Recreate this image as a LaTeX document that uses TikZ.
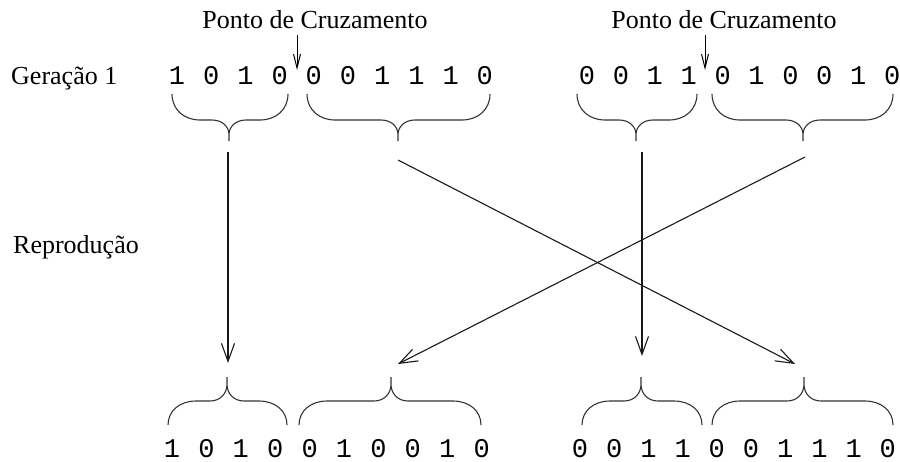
\documentclass[tikz,border=0pt]{standalone}
\usepackage{fontspec}
\setmainfont{Liberation Serif}
\setmonofont{Liberation Mono}
\usetikzlibrary{arrows.meta}
\newcommand{\mybrace}[7]{% #1 name, #2 x1, #3 x2, #4 xc, #5 yend, #6 ymid, #7 ytip
  \draw[brc] (#2,#5) .. controls (#2,{#5+0.6*(#6-#5)}) and ({#2+12},#6) .. ({#2+28},#6) -- ({#4-17},#6)
    .. controls ({#4-7},#6) and (#4,{#6+0.3*(#7-#6)}) .. (#4,{#6+0.7*(#7-#6)}) -- (#4,#7) coordinate (#1)
    (#4,{#6+0.7*(#7-#6)}) .. controls (#4,{#6+0.3*(#7-#6)}) and ({#4+7},#6) .. ({#4+17},#6) -- ({#3-28},#6)
    .. controls ({#3-12},#6) and (#3,{#5+0.6*(#6-#5)}) .. (#3,#5);}
\begin{document}
\begin{tikzpicture}[x=1pt,y=-1pt,
  lbl/.style={font=\fontsize{26}{26}\selectfont, inner sep=0pt},
  bit/.style={font=\ttfamily\fontsize{27}{27}\selectfont, inner sep=0pt},
  brc/.style={line width=1.1pt, black!80},
  conn/.style={line width=1.1pt, black!90, -{Straight Barb[length=18pt,width=13pt,line width=1.1pt]}},
  cutarrow/.style={line width=1pt, -{Straight Barb[length=14pt,width=7pt]}}]
\useasboundingbox (0,0) rectangle (900,461);

% labels
\node[lbl, anchor=base west] (gen) at (11,84) {Geração 1};
\node[lbl, anchor=base west] (rep) at (13,253) {Reprodução};
\node[lbl, anchor=base] (pc1) at (315,28) {Ponto de Cruzamento};
\node[lbl, anchor=base] (pc2) at (724,28) {Ponto de Cruzamento};

% top row bits
\foreach \b [count=\i from 0] in {1,0,1,0,0,0,1,1,1,0}
  \node[bit, anchor=base] (ta\i) at ({177+\i*34.2},84) {\b};
\foreach \b [count=\i from 0] in {0,0,1,1,0,1,0,0,1,0}
  \node[bit, anchor=base] (tb\i) at ({587+\i*33.9},84) {\b};
% bottom row bits
\foreach \b [count=\i from 0] in {1,0,1,0,0,1,0,0,1,0}
  \node[bit, anchor=base] (ba\i) at ({172+\i*34.4},457) {\b};
\foreach \b [count=\i from 0] in {0,0,1,1,0,0,1,1,1,0}
  \node[bit, anchor=base] (bb\i) at ({580+\i*34.2},457) {\b};

% crossover point arrows
\coordinate (c1s) at (297,35); \coordinate (c1e) at (297,70);
\coordinate (c2s) at (705,35); \coordinate (c2e) at (705,70);
\draw[cutarrow] (c1s) -- (c1e);
\draw[cutarrow] (c2s) -- (c2e);

% top braces
\mybrace{bA}{172}{288}{229}{94}{120}{141}
\mybrace{bB}{307}{490}{398}{94}{120}{141}
\mybrace{bC}{577}{697}{636}{94}{120}{141}
\mybrace{bD}{712}{893}{803}{94}{120}{141}
% bottom braces
\mybrace{bE}{168}{287}{227}{425}{401}{377}
\mybrace{bF}{299}{481}{391}{425}{401}{377}
\mybrace{bG}{582}{702}{641}{425}{401}{377}
\mybrace{bH}{712}{893}{804}{425}{401}{377}

% reproduction arrows
\coordinate (s1) at (228,152); \coordinate (e1) at (228,363);
\coordinate (s2) at (398,160); \coordinate (e2) at (795,364);
\coordinate (s3) at (805,157); \coordinate (e3) at (398,364);
\coordinate (s4) at (642,152); \coordinate (e4) at (642,356);
\draw[conn] (s1) -- (e1);
\draw[conn] (s2) -- (e2);
\draw[conn] (s3) -- (e3);
\draw[conn] (s4) -- (e4);
\end{tikzpicture}
\end{document}
